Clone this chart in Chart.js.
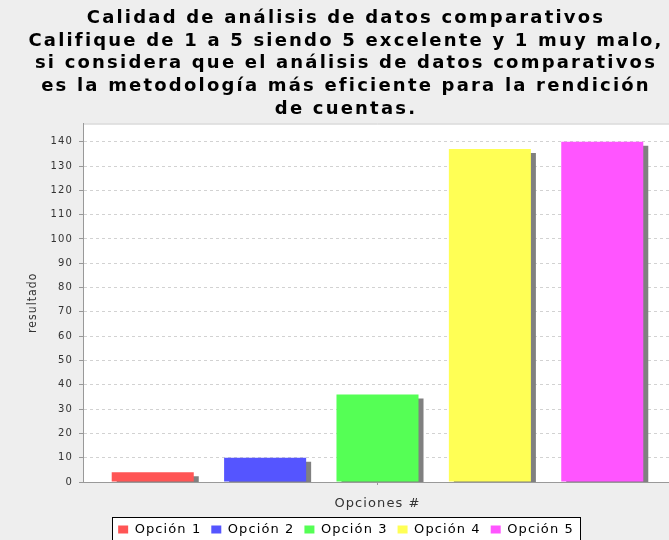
<!DOCTYPE html>
<html>
<head>
<meta charset="utf-8">
<script src="https://cdn.jsdelivr.net/npm/chart.js@4.4.0/dist/chart.umd.min.js"></script>
<style>
  html, body { margin: 0; padding: 0; background: #eeeeee; overflow: hidden; }
  #wrap { width: 692px; height: 546px; }
</style>
</head>
<body>
<div id="wrap"><canvas id="c" width="692" height="546"></canvas></div>
<script>
// Chart data
const titleLines = [
    'Calidad de análisis de datos comparativos',
    'Califique de 1 a 5 siendo 5 excelente y 1 muy malo,',
    'si considera que el análisis de datos comparativos',
    'es la metodología más eficiente para la rendición',
    'de cuentas.'
];
const categories = [''];
const seriesNames = ['Opción 1', 'Opción 2', 'Opción 3', 'Opción 4', 'Opción 5'];
const seriesValues = [4, 10, 36, 137, 140];
const seriesColors = ['#ff5555', '#5555ff', '#55ff55', '#ffff55', '#ff55ff'];
const yAxisMax = 147.5;
const yStep = 10;

const FONT = "'DejaVu Sans', sans-serif";
// the original (Java) text is wider than DejaVu, so space the letters out a bit
const TEXT_SPACING = '1.1px';
const TITLE_SPACING = '2.2px';

// white plot background + outline, bordered legend box, bar shadows
const plotDecor = {
    id: 'plotDecor',
    afterInit(chart) {
        const tb = chart.titleBlock;
        const origDraw = tb.draw.bind(tb);
        tb.draw = function () {
            const ctx = chart.ctx;
            const prev = ctx.letterSpacing;
            ctx.letterSpacing = TITLE_SPACING;
            origDraw();
            ctx.letterSpacing = prev;
        };
    },
    beforeUpdate(chart) {
        chart.ctx.letterSpacing = TEXT_SPACING;
    },
    beforeDraw(chart) {
        const { ctx, chartArea: a } = chart;
        ctx.letterSpacing = TEXT_SPACING;
        ctx.save();
        ctx.fillStyle = '#ffffff';
        ctx.fillRect(a.left, a.top, a.right - a.left, a.bottom - a.top);
        ctx.strokeStyle = '#c8c8c8';
        ctx.lineWidth = 1;
        ctx.beginPath();
        ctx.moveTo(a.left, a.top + 0.5);
        ctx.lineTo(a.right, a.top + 0.5);
        ctx.stroke();

        const boxes = chart.legend.legendHitBoxes;
        if (boxes && boxes.length) {
            const first = boxes[0], last = boxes[boxes.length - 1];
            const x0 = Math.round(first.left) - 5.5;
            const x1 = Math.round(last.left + last.width) + 6.5;
            const y0 = Math.round(first.top) - 5.5;
            const y1 = y0 + 24;
            ctx.fillStyle = '#ffffff';
            ctx.fillRect(x0, y0, x1 - x0, y1 - y0);
            ctx.strokeStyle = '#000000';
            ctx.strokeRect(x0, y0, x1 - x0, y1 - y0);
        }
        ctx.restore();
    },
    beforeDatasetDraw(chart) {
        const ctx = chart.ctx;
        ctx.save();
        ctx.shadowColor = '#808080';
        ctx.shadowBlur = 0;
        ctx.shadowOffsetX = 5;
        ctx.shadowOffsetY = 4;
    },
    afterDatasetDraw(chart) {
        chart.ctx.restore();
    }
};

new Chart(document.getElementById('c'), {
    type: 'bar',
    data: {
        labels: categories,
        datasets: seriesNames.map((name, i) => ({
            label: name,
            data: [seriesValues[i]],
            backgroundColor: seriesColors[i],
            borderWidth: 0,
            clip: 0
        }))
    },
    options: {
        responsive: false,
        animation: false,
        events: [],
        categoryPercentage: 0.954,
        barPercentage: 0.73,
        layout: { padding: 0 },
        plugins: {
            title: {
                display: true,
                text: titleLines,
                color: '#000000',
                font: { family: FONT, size: 18, weight: 'bold', lineHeight: '22.7px' },
                padding: { top: 7, bottom: 3 }
            },
            legend: {
                display: true,
                position: 'bottom',
                labels: {
                    color: '#000000',
                    font: { family: FONT, size: 13 },
                    boxWidth: 10,
                    boxHeight: 8,
                    padding: 10
                }
            },
            tooltip: { enabled: false }
        },
        scales: {
            x: {
                grid: {
                    display: true,
                    drawOnChartArea: false,
                    offset: false,
                    tickLength: 3,
                    tickColor: '#999999'
                },
                border: { display: true, color: '#999999' },
                ticks: { display: false },
                title: {
                    display: true,
                    text: 'Opciones #',
                    color: '#333333',
                    font: { family: FONT, size: 13 },
                    padding: { top: 10, bottom: 2 }
                },
                afterFit: s => { s.height = 31; }
            },
            y: {
                min: 0,
                max: yAxisMax,
                grid: {
                    color: '#d2d2d2',
                    tickLength: 4,
                    tickColor: '#999999',
                    tickBorderDash: []
                },
                border: { display: true, color: '#999999', dash: [3, 3] },
                ticks: {
                    stepSize: yStep,
                    includeBounds: false,
                    padding: 6,
                    color: '#333333',
                    font: { family: FONT, size: 10 }
                },
                title: {
                    display: true,
                    text: 'resultado',
                    color: '#333333',
                    font: { family: "'DejaVu Sans Condensed', 'DejaVu Sans', sans-serif", size: 12 },
                    padding: { top: 26, bottom: 0 }
                },
                afterFit: s => { s.width = 83; }
            },
            // empty right-hand gutter, as in the original plot insets
            gutter: {
                axis: 'y',
                position: 'right',
                min: 0,
                max: yAxisMax,
                grid: { display: false },
                border: { display: false },
                ticks: { display: false },
                afterFit: s => { s.width = 20; }
            }
        }
    },
    plugins: [plotDecor]
});
</script>
</body>
</html>
